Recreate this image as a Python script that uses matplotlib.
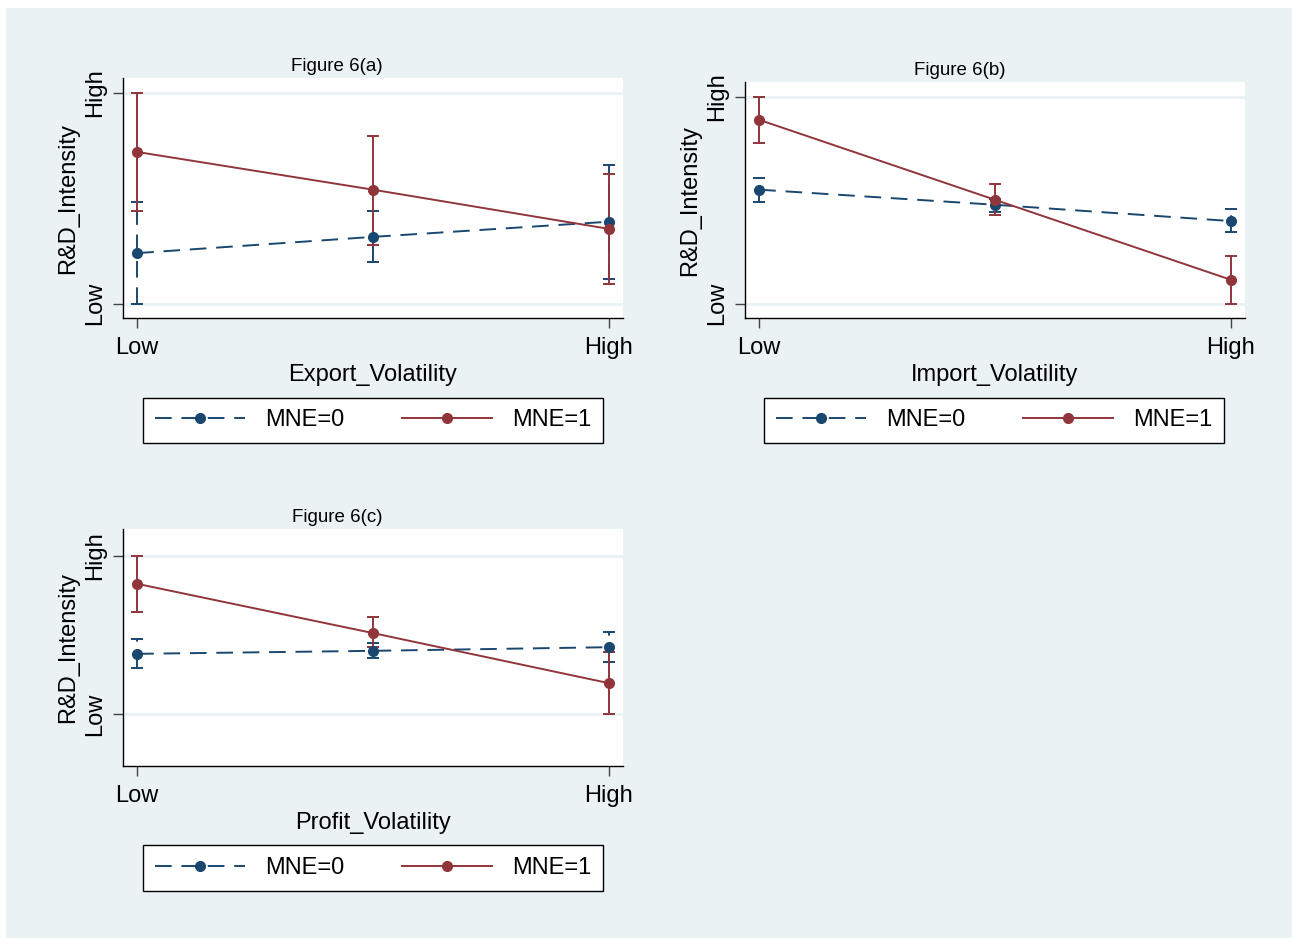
import matplotlib
matplotlib.use("Agg")
import matplotlib.pyplot as plt
from matplotlib.lines import Line2D
from matplotlib.patches import Rectangle

plt.rcParams['font.family'] = ['Liberation Sans', 'DejaVu Sans']
plt.rcParams['lines.scale_dashes'] = False

# ---------------- data ----------------
x_levels = [0.0, 0.5, 1.0]
x_tick_pos = [0.0, 1.0]
x_tick_labels = ['Low', 'High']
y_tick_pos = [0.0, 1.0]
y_tick_labels = ['Low', 'High']
series_labels = ['MNE=0', 'MNE=1']
titles = ['Figure 6(a)', 'Figure 6(b)', 'Figure 6(c)']
xlabels = ['Export_Volatility', 'Import_Volatility', 'Profit_Volatility']
ylabel = 'R&D_Intensity'

a_mne0 = [0.24, 0.317, 0.389]
a_mne0_lo = [0.0, 0.196, 0.117]
a_mne0_hi = [0.484, 0.44, 0.66]
a_mne1 = [0.72, 0.541, 0.355]
a_mne1_lo = [0.44, 0.28, 0.093]
a_mne1_hi = [1.0, 0.796, 0.616]

b_mne0 = [0.552, 0.479, 0.40]
b_mne0_lo = [0.492, 0.445, 0.347]
b_mne0_hi = [0.61, 0.505, 0.46]
b_mne1 = [0.89, 0.503, 0.116]
b_mne1_lo = [0.779, 0.431, 0.0]
b_mne1_hi = [1.0, 0.579, 0.229]

c_mne0 = [0.381, 0.40, 0.423]
c_mne0_lo = [0.29, 0.354, 0.328]
c_mne0_hi = [0.474, 0.448, 0.518]
c_mne1 = [0.823, 0.512, 0.196]
c_mne1_lo = [0.646, 0.427, 0.0]
c_mne1_hi = [1.0, 0.615, 0.393]

# ---------------- style ----------------
W, H = 1292, 938
DPI = 100
BLUE = '#1A476F'
RED = '#90353B'
BG = '#EAF2F3'
DASH = (12, 7)
FS = 17
TFS = 13.5

fig = plt.figure(figsize=(W / DPI, H / DPI), dpi=DPI, facecolor='white')
fig.patches.append(Rectangle((6 / W, 0), 1 - 6 / W, 1 - 8 / H, transform=fig.transFigure,
                             facecolor=BG, edgecolor='none', zorder=-10))


def px_axes(left, top, right, bottom):
    return fig.add_axes([left / W, 1 - bottom / H, (right - left) / W, (bottom - top) / H])


panels = [
    dict(box=(123, 78, 623, 318), ylim=(-0.068, 1.071), leg=(373, 420.5), tx=337,
         d0=(a_mne0, a_mne0_lo, a_mne0_hi), d1=(a_mne1, a_mne1_lo, a_mne1_hi)),
    dict(box=(745, 82, 1245, 318), ylim=(-0.069, 1.073), leg=(994, 420.5), tx=960,
         d0=(b_mne0, b_mne0_lo, b_mne0_hi), d1=(b_mne1, b_mne1_lo, b_mne1_hi)),
    dict(box=(123, 529, 623, 766), ylim=(-0.327, 1.169), leg=(373, 868), tx=337,
         d0=(c_mne0, c_mne0_lo, c_mne0_hi), d1=(c_mne1, c_mne1_lo, c_mne1_hi)),
]

for i, p in enumerate(panels):
    ax = px_axes(*p['box'])
    ax.set_facecolor('white')
    ax.set_xlim(-0.03, 1.03)
    ax.set_ylim(*p['ylim'])
    for yv in y_tick_pos:
        ax.axhline(yv, color=BG, lw=2, zorder=0)

    for (vals, lo, hi), color, dashed in [(p['d0'], BLUE, True), (p['d1'], RED, False)]:
        err = [[v - l for v, l in zip(vals, lo)], [h - v for v, h in zip(vals, hi)]]
        line, caps, bars = ax.errorbar(x_levels, vals, yerr=err, color=color, lw=1.4,
                                       elinewidth=1.4, capsize=4.5, capthick=1.4,
                                       marker='o', markersize=7, zorder=3)
        if dashed:
            line.set_dashes(DASH)
            for b in bars:
                b.set_linestyle((0, DASH))

    for side in ['top', 'right']:
        ax.spines[side].set_visible(False)
    for side in ['left', 'bottom']:
        ax.spines[side].set_color('#000000')
        ax.spines[side].set_linewidth(1.0)

    ax.set_xticks(x_tick_pos)
    ax.set_xticklabels(x_tick_labels, fontsize=FS)
    ax.set_yticks(y_tick_pos)
    ax.set_yticklabels(y_tick_labels, fontsize=FS, rotation=90, va='center')
    ax.tick_params(axis='both', length=7, width=1, color='#444444', direction='out')
    ax.tick_params(axis='x', pad=7)
    ax.tick_params(axis='y', pad=5)
    ax.set_xlabel(xlabels[i], fontsize=FS, labelpad=3)
    ax.set_ylabel(ylabel, fontsize=FS, labelpad=4)
    left = p['box'][0]
    ax.set_title(titles[i], fontsize=TFS, pad=5, x=(p['tx'] - left) / 500.0)

    handles = [
        Line2D([], [], color=BLUE, lw=1.4, dashes=DASH, marker='o', markersize=7),
        Line2D([], [], color=RED, lw=1.4, marker='o', markersize=7),
    ]
    leg = ax.legend(handles, series_labels, loc='center', ncol=2,
                    bbox_to_anchor=(p['leg'][0] / W, 1 - p['leg'][1] / H),
                    bbox_transform=fig.transFigure, fontsize=FS, frameon=True,
                    fancybox=False, shadow=False, framealpha=1, edgecolor='#000000',
                    handlelength=3.8, handletextpad=0.85, columnspacing=2.45,
                    borderpad=0.5, markerscale=1.0, numpoints=1)
    leg.get_frame().set_linewidth(1.0)

fig.savefig('out.png', dpi=DPI, facecolor=fig.get_facecolor())
